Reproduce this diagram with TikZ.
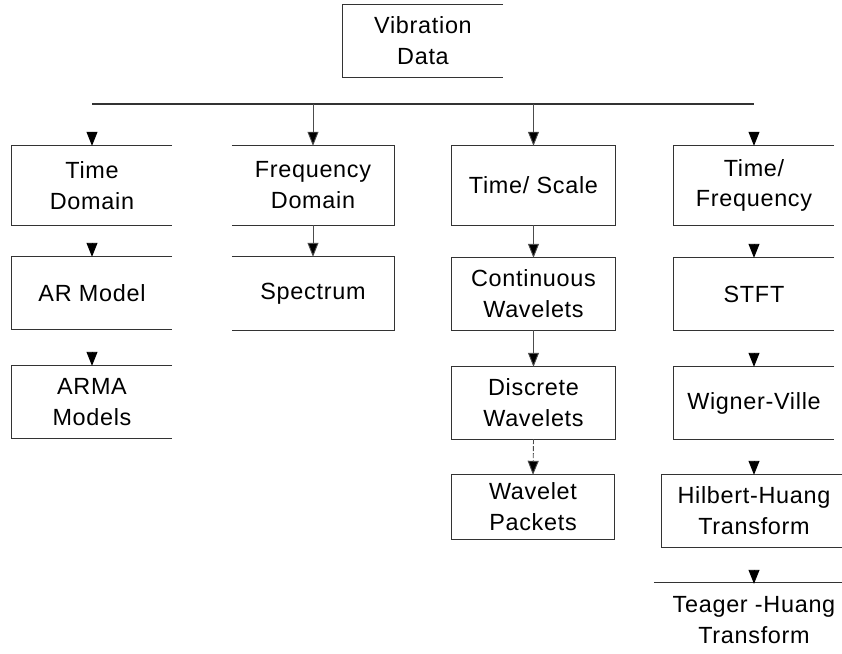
\documentclass[tikz,border=0pt]{standalone}
\usepackage{fontspec}
\setmainfont{Liberation Sans}[LetterSpace=3]
\usetikzlibrary{arrows.meta}

\begin{document}
\begin{tikzpicture}[x=1bp,y=-1bp,
  lbl/.style={inner sep=0pt, align=center, font=\fontsize{23.5}{31}\selectfont},
  edge/.style={draw=black!80, line width=1.2bp},
  tip/.style={-{Triangle[length=14bp,width=11bp,fill=black]}},
  stem/.style={draw=black!70, line width=0.9bp, tip},
  headonly/.style={draw=black, line width=0.9bp, tip},
]
\useasboundingbox (0,0) rectangle (842,654);

% ---------- nodes ----------
\node[lbl, minimum width=160bp, minimum height=72bp] (vd) at (423,41) {Vibration\\Data};

\node[lbl, minimum width=160bp, minimum height=79bp] (td) at (92,185.5) {Time\\Domain};
\node[lbl, minimum width=162bp, minimum height=79bp] (fd) at (313,185.5) {Frequency\\Domain};
\node[lbl, minimum width=163bp, minimum height=79bp] (ts) at (533.5,185.5) {Time/ Scale};
\node[lbl, minimum width=160bp, minimum height=79bp] (tf) at (754,185.5) {Time/\\Frequency};

\node[lbl, minimum width=160bp, minimum height=72bp] (ar) at (92,293) {AR Model};
\node[lbl, minimum width=162bp, minimum height=73bp] (sp) at (313,293.5) {Spectrum};
\node[lbl, minimum width=163bp, minimum height=72bp] (cw) at (533.5,294) {Continuous\\Wavelets};
\node[lbl, minimum width=160bp, minimum height=72bp] (st) at (754,294) {STFT};

\node[lbl, minimum width=160bp, minimum height=72bp] (arma) at (92,402) {ARMA\\Models};
\node[lbl, minimum width=163bp, minimum height=72bp] (dw) at (533.5,403) {Discrete\\Wavelets};
\node[lbl, minimum width=160bp, minimum height=72bp] (wv) at (754,403) {Wigner-Ville};

\node[lbl, minimum width=162bp, minimum height=64bp] (wp) at (533,507) {Wavelet\\Packets};
\node[lbl, minimum width=184bp, minimum height=72bp] (hh) at (754,511) {Hilbert-Huang\\Transform};

\node[lbl, minimum width=200bp, minimum height=72bp] (th) at (754,620) {Teager -Huang\\Transform};

% ---------- box outlines ----------
\draw[edge] (vd.north east) -- (vd.north west) -- (vd.south west) -- (vd.south east);

\draw[edge] (td.north east) -- (td.north west) -- (td.south west) -- (td.south east);
\draw[edge] (fd.north west) -- (fd.north east) -- (fd.south east) -- (fd.south west);
\draw[edge] (ts.north west) rectangle (ts.south east);
\draw[edge] (tf.north east) -- (tf.north west) -- (tf.south west) -- (tf.south east);

\draw[edge] (ar.north east) -- (ar.north west) -- (ar.south west) -- (ar.south east);
\draw[edge] (sp.north west) -- (sp.north east) -- (sp.south east) -- (sp.south west);
\draw[edge] (cw.north west) rectangle (cw.south east);
\draw[edge] (st.north east) -- (st.north west) -- (st.south west) -- (st.south east);

\draw[edge] (arma.north east) -- (arma.north west) -- (arma.south west) -- (arma.south east);
\draw[edge] (dw.north west) rectangle (dw.south east);
\draw[edge] (wv.north east) -- (wv.north west) -- (wv.south west) -- (wv.south east);

\draw[edge] (wp.north west) rectangle (wp.south east);
\draw[edge] (hh.north east) -- (hh.north west) -- (hh.south west) -- (hh.south east);

\draw[edge] ([yshift=1bp]th.north west) -- ([yshift=1bp]th.north east);

% ---------- distribution bar ----------
\coordinate (barL) at (92,104);
\coordinate (barR) at (754,104);
\draw[draw=black!80, line width=1.3bp] (barL) -- (barR);

% ---------- connectors ----------
\draw[stem] (fd.north |- barL) -- (fd.north);
\draw[stem] (ts.north |- barL) -- (ts.north);
\draw[stem] (fd.south) -- (sp.north);
\draw[stem] (ts.south) -- (cw.north);
\draw[stem] (cw.south) -- (dw.north);
\draw[stem, dash pattern=on 5bp off 2bp] (dw.south) -- (wp.north);

\draw[headonly] ([yshift=14bp]td.north) -- (td.north);
\draw[headonly] ([yshift=14bp]tf.north) -- (tf.north);
\draw[headonly] ([yshift=14bp]ar.north) -- (ar.north);
\draw[headonly] ([yshift=14bp]arma.north) -- (arma.north);
\draw[headonly] ([yshift=14bp]st.north) -- (st.north);
\draw[headonly] ([yshift=14bp]wv.north) -- (wv.north);
\draw[headonly] ([yshift=14bp]hh.north) -- (hh.north);
\draw[headonly] ([yshift=14bp]th.north) -- (th.north);
\end{tikzpicture}
\end{document}
